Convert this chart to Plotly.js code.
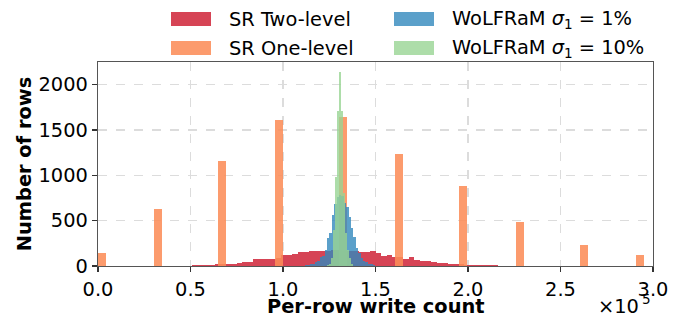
<!DOCTYPE html>
<html>
<head>
<meta charset="utf-8">
<script src="https://cdn.plot.ly/plotly-3.0.1.min.js"></script>
<style>
  html, body { margin: 0; padding: 0; background: #fff; }
  #chart { width: 683px; height: 318px; }
</style>
</head>
<body>
<div id="chart"></div>
<script>
// ---------------- data ----------------
const seriesNames = ["SR Two-level", "SR One-level", "WoLFRaM <i>σ</i><sub>1</sub> = 1%", "WoLFRaM <i>σ</i><sub>1</sub> = 10%"];

// SR Two-level: bin centres (writes) and counts
const redBins = [52500, 55500, 58500, 61500, 64500, 67500, 70500, 73500, 76500, 79500,
  82500, 85500, 88500, 91500, 94500, 97500, 100500, 103500, 106500, 109500,
  112500, 115500, 118500, 121500, 124500, 127500, 130500, 133500, 136500, 139500,
  142500, 145500, 148500, 151500, 154500, 157500, 160500, 163500, 166500, 169500,
  172500, 175500, 178500, 181500, 184500, 187500, 190500, 193500, 196500, 199500,
  202500, 205500, 208500, 211500, 214500, 217500];
const redCounts = [10, 10, 11, 12, 22, 24, 25, 26, 37, 40,
  48, 78, 74, 76, 82, 90, 118, 125, 132, 150,
  158, 165, 162, 166, 170, 172, 175, 170, 165, 160,
  155, 150, 160, 140, 115, 120, 103, 95, 80, 95,
  65, 58, 50, 45, 33, 30, 22, 22, 18, 12,
  10, 8, 10, 6, 8, 5];

// SR One-level
const orangeBins = [2150, 32400, 67000, 97800, 132400, 162700, 197300, 228100, 262700, 293000];
const orangeCounts = [147, 630, 1160, 1613, 1639, 1238, 884, 486, 232, 122];

// WoLFRaM sigma1 = 1%
const blueBins = [112700, 114000, 115300, 116600, 117900, 119200, 120500, 121800, 123100, 124400, 125700,
  127000, 128300, 129600, 130900, 132200, 133500, 134800, 136100, 137400, 138700,
  140000, 141300, 142600, 143900, 145200, 146500, 147800, 149100];
const blueCounts = [6, 10, 18, 25, 45, 55, 100, 110, 180, 306, 361,
  563, 685, 766, 780, 770, 700, 655, 545, 417, 324,
  196, 140, 85, 55, 45, 25, 20, 8];

// WoLFRaM sigma1 = 10%
const greenBins = [124300, 125400, 126500, 127600, 128600, 129700, 130800, 131900, 133000, 134100, 135100, 136200, 137300];
const greenCounts = [10, 20, 90, 400, 987, 1705, 2136, 1705, 800, 361, 177, 85, 25];

const xTickVals = [0, 50000, 100000, 150000, 200000, 250000, 300000];
const xTickText = ["0.0", "0.5", "1.0", "1.5", "2.0", "2.5", "3.0"];
const yTickVals = [0, 500, 1000, 1500, 2000];

// ---------------- styling ----------------
const colors = ["rgba(213,62,79,0.97)", "rgba(252,141,89,0.88)", "rgba(50,136,189,0.8)", "rgba(153,213,148,0.8)"];
const widths = [3000, 4300, 1300, 1080];
const FONT = "DejaVu Sans, sans-serif";
const FS = 19.4;

const W = 683, H = 318;
const M = { l: 98, r: 30, t: 62, b: 52 };
const plotW = W - M.l - M.r, plotH = H - M.t - M.b;
const px = x => (x - M.l) / plotW;           // pixel -> paper x
const py = y => (H - M.b - y) / plotH;       // pixel -> paper y

const xs = [redBins, orangeBins, blueBins, greenBins];
const ys = [redCounts, orangeCounts, blueCounts, greenCounts];

const traces = xs.map((x, i) => ({
  type: "bar",
  x: x,
  y: ys[i],
  width: widths[i],
  name: seriesNames[i],
  marker: { color: colors[i], line: { width: 0 } },
  showlegend: false,
  hoverinfo: "skip"
}));

// manual two-column legend (matplotlib style, column-major order)
const legendPos = [
  { sx: 171, ty: 19 },  // SR Two-level
  { sx: 171, ty: 48 },  // SR One-level
  { sx: 394, ty: 19 },  // WoLFRaM 1%
  { sx: 394, ty: 48 }   // WoLFRaM 10%
];
const shapes = [];
const annotations = [];
legendPos.forEach((p, i) => {
  shapes.push({
    type: "rect", xref: "paper", yref: "paper",
    x0: px(p.sx), x1: px(p.sx + 40), y0: py(p.ty + 7), y1: py(p.ty - 7),
    fillcolor: colors[i], line: { width: 0 }, layer: "above"
  });
  annotations.push({
    xref: "paper", yref: "paper", x: px(p.sx + 56), y: py(p.ty),
    xanchor: "left", yanchor: "middle", showarrow: false,
    text: seriesNames[i], font: { family: FONT, size: FS, color: "#000" }
  });
});
// x axis title
annotations.push({
  xref: "paper", yref: "paper", x: px(376), y: py(306.5),
  xanchor: "center", yanchor: "middle", showarrow: false,
  text: "<b>Per-row write count</b>", font: { family: FONT, size: FS, color: "#000" }
});
// offset text of the x axis (×10^5)
annotations.push({
  xref: "paper", yref: "paper", x: px(641), y: py(306.5),
  xanchor: "right", yanchor: "middle", showarrow: false,
  text: "×10", font: { family: FONT, size: FS, color: "#000" }
});
annotations.push({
  xref: "paper", yref: "paper", x: px(640), y: py(298.5),
  xanchor: "left", yanchor: "middle", showarrow: false,
  text: "5", font: { family: FONT, size: 13.5, color: "#000" }
});

const layout = {
  width: W, height: H,
  margin: M,
  paper_bgcolor: "#fff", plot_bgcolor: "#fff",
  barmode: "overlay",
  bargap: 0,
  font: { family: FONT, size: FS, color: "#000" },
  showlegend: false,
  xaxis: {
    range: [0, 300000],
    tickvals: xTickVals, ticktext: xTickText,
    ticks: "outside", ticklen: 5, tickwidth: 1.2, tickcolor: "#333",
    showline: true, linecolor: "#555", linewidth: 1.3, mirror: true,
    showgrid: true, gridcolor: "#dcdcdc", griddash: "dash", gridwidth: 1.2,
    zeroline: false,
    tickfont: { family: FONT, size: FS, color: "#000" }
  },
  yaxis: {
    range: [0, 2250],
    tickvals: yTickVals,
    ticks: "outside", ticklen: 5, tickwidth: 1.2, tickcolor: "#333",
    showline: true, linecolor: "#555", linewidth: 1.3, mirror: true,
    showgrid: true, gridcolor: "#dcdcdc", griddash: "dash", gridwidth: 1.2,
    zeroline: false,
    tickfont: { family: FONT, size: FS, color: "#000" },
    title: { text: "<b>Number of rows</b>", font: { family: FONT, size: FS, color: "#000" }, standoff: 1 }
  },
  shapes: shapes,
  annotations: annotations
};

Plotly.newPlot("chart", traces, layout, { staticPlot: true, displayModeBar: false });
</script>
</body>
</html>
